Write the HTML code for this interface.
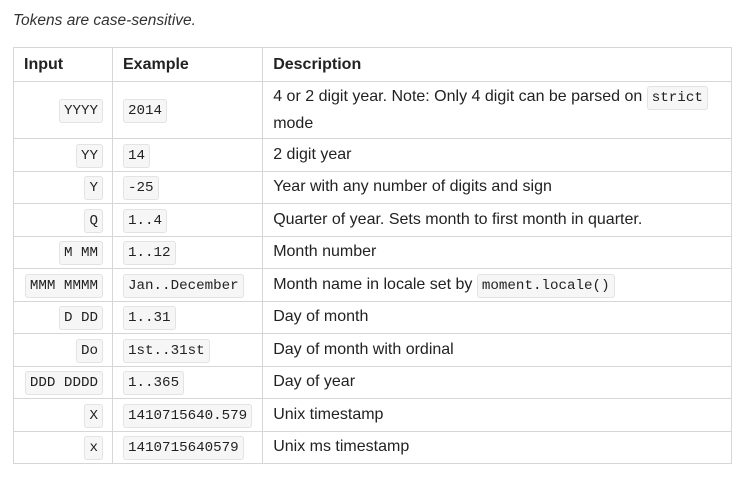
<!DOCTYPE html>
<html><head><meta charset="utf-8"><style>
body{margin:0;width:746px;height:480px;background:#fff;font-family:"Liberation Sans",Arial,sans-serif;color:#222;position:relative;overflow:hidden}
.note{position:absolute;left:13px;top:12px;font-size:15.5px;font-style:italic;color:#333}
table{position:absolute;left:13px;top:47px;border-collapse:collapse;width:719px;font-size:16px}
td,th{border:1px solid #d6d6d6;padding:0 10px;vertical-align:middle}
th{text-align:left;height:33px;font-weight:bold;color:#222}
td{height:31.5px}
td.i{text-align:right;padding-right:9px}
code{font-family:"Liberation Mono",monospace;font-size:14.2px;background:#f6f6f6;border:1px solid #e3e3e3;border-radius:3px;padding:3px 4px;color:#222}
.c1{width:78px}.c2{width:128px}
</style></head><body>
<div class="note">Tokens are case-sensitive.</div>
<table>
<tr><th class="c1">Input</th><th class="c2">Example</th><th>Description</th></tr>
<tr style="height:57px"><td class="i"><code>YYYY</code></td><td><code>2014</code></td><td style="line-height:26px">4 or 2 digit year. Note: Only 4 digit can be parsed on <code>strict</code> mode</td></tr>
<tr><td class="i"><code>YY</code></td><td><code>14</code></td><td>2 digit year</td></tr>
<tr><td class="i"><code>Y</code></td><td><code>-25</code></td><td>Year with any number of digits and sign</td></tr>
<tr><td class="i"><code>Q</code></td><td><code>1..4</code></td><td>Quarter of year. Sets month to first month in quarter.</td></tr>
<tr><td class="i"><code>M MM</code></td><td><code>1..12</code></td><td>Month number</td></tr>
<tr><td class="i"><code>MMM MMMM</code></td><td><code>Jan..December</code></td><td>Month name in locale set by <code>moment.locale()</code></td></tr>
<tr><td class="i"><code>D DD</code></td><td><code>1..31</code></td><td>Day of month</td></tr>
<tr><td class="i"><code>Do</code></td><td><code>1st..31st</code></td><td>Day of month with ordinal</td></tr>
<tr><td class="i"><code>DDD DDDD</code></td><td><code>1..365</code></td><td>Day of year</td></tr>
<tr><td class="i"><code>X</code></td><td><code>1410715640.579</code></td><td>Unix timestamp</td></tr>
<tr><td class="i"><code>x</code></td><td><code>1410715640579</code></td><td>Unix ms timestamp</td></tr>
</table>
</body></html>
